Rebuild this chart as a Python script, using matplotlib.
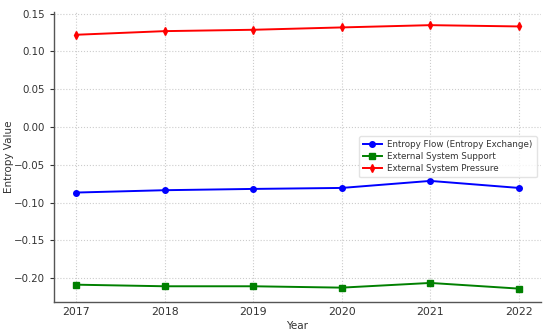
import matplotlib.pyplot as plt

years = [2017, 2018, 2019, 2020, 2021, 2022]
entropy_flow = [-0.0867, -0.0836, -0.0819, -0.0806, -0.0713, -0.0806]
ext_support = [-0.2085, -0.2106, -0.2106, -0.2124, -0.2062, -0.2137]
ext_pressure = [0.1219, 0.1267, 0.1285, 0.1316, 0.1346, 0.1329]

txt = '#333333'
plt.rcParams['font.family'] = 'DejaVu Sans'

fig = plt.figure(figsize=(5.5, 3.35), dpi=100)
ax = fig.add_axes([0.0982, 0.0994, 0.8854, 0.8648])

ax.plot(years, entropy_flow, color='blue', marker='o', ms=4, lw=1.4,
        label='Entropy Flow (Entropy Exchange)')
ax.plot(years, ext_support, color='green', marker='s', ms=4, lw=1.4,
        label='External System Support')
ax.plot(years, ext_pressure, color='red', marker='d', ms=4, lw=1.4,
        label='External System Pressure')

ax.set_ylim(-0.231, 0.152)
ax.set_xticks(years)
ax.set_yticks([-0.20, -0.15, -0.10, -0.05, 0.00, 0.05, 0.10, 0.15])
ax.yaxis.set_major_formatter(plt.FuncFormatter(lambda v, _: f'{v:.2f}'.replace('-', '\u2212')))

ax.grid(True, ls=':', color='#cccccc', lw=0.8)
for s in ['top', 'right']:
    ax.spines[s].set_visible(False)
for s in ['left', 'bottom']:
    ax.spines[s].set_color('#555555')
    ax.spines[s].set_linewidth(1.0)
ax.tick_params(axis='both', labelsize=7.4, colors=txt, length=3, width=0.8)
ax.tick_params(axis='x', length=0, labelsize=7.8)

ax.set_xlabel('Year', fontsize=7.5, color=txt, labelpad=3)
ax.set_ylabel('Entropy Value', fontsize=7.5, color=txt, labelpad=0)

leg = ax.legend(loc='center right', fontsize=6.3, frameon=True, borderpad=0.45,
                handlelength=2.2, handletextpad=0.6, labelspacing=0.35)
leg.get_frame().set_edgecolor('#dddddd')
for t in leg.get_texts():
    t.set_color(txt)

fig.savefig('out.png', dpi=100)
